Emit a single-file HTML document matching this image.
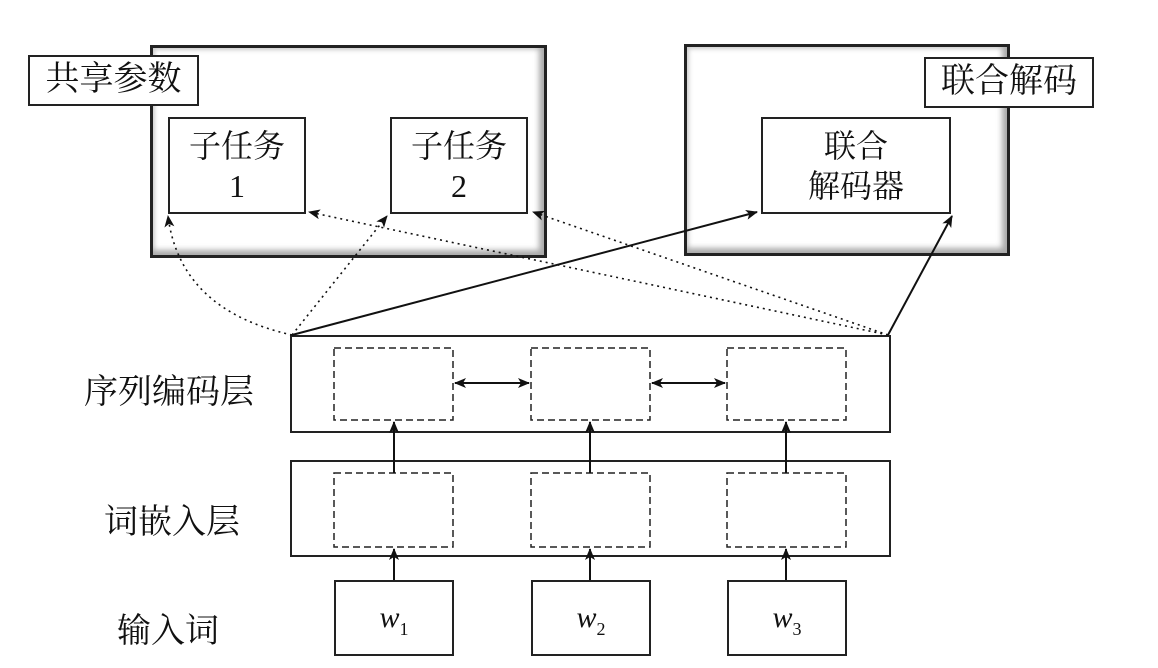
<!DOCTYPE html>
<html><head><meta charset="utf-8"><style>
body{margin:0;background:#fff;width:1158px;height:668px;overflow:hidden;position:relative;font-family:"Liberation Serif","Noto Serif CJK SC",serif;color:#111}
.a{position:absolute;box-sizing:border-box}
.outer{border:3px solid #222;background:#fff;box-shadow:inset -7px -7px 6px -2px #aaa,inset 3px 3px 4px -1px #ccc}
.b{border:2px solid #222;background:#fff;display:flex;align-items:center;justify-content:center;text-align:center;line-height:1.25}
.lab{font-size:34px}
.s{font-size:18px;position:relative;top:8px;font-style:normal}
</style></head><body>
<div class="a outer" style="left:150px;top:45px;width:397px;height:213px"></div>
<div class="a b" style="left:28px;top:55px;width:171px;height:51px;font-size:34px">共享参数</div>
<div class="a b" style="left:168px;top:117px;width:138px;height:97px;font-size:32px">子任务<br>1</div>
<div class="a b" style="left:390px;top:117px;width:138px;height:97px;font-size:32px">子任务<br>2</div>
<div class="a outer" style="left:684px;top:44px;width:326px;height:212px"></div>
<div class="a b" style="left:924px;top:57px;width:170px;height:51px;font-size:34px">联合解码</div>
<div class="a b" style="left:761px;top:117px;width:190px;height:97px;font-size:32px">联合<br>解码器</div>

<div class="a b" style="left:290px;top:335px;width:601px;height:98px"></div>
<div class="a b" style="left:290px;top:460px;width:601px;height:97px"></div>
<div class="a lab" style="left:84px;top:364px">序列编码层</div>
<div class="a lab" style="left:104px;top:494px">词嵌入层</div>
<div class="a lab" style="left:117px;top:603px">输入词</div>

<div class="a b" style="left:334px;top:580px;width:120px;height:76px;font-size:30px"><span><i>w</i><span class="s">1</span></span></div>
<div class="a b" style="left:531px;top:580px;width:120px;height:76px;font-size:30px"><span><i>w</i><span class="s">2</span></span></div>
<div class="a b" style="left:727px;top:580px;width:120px;height:76px;font-size:30px"><span><i>w</i><span class="s">3</span></span></div>

<svg class="a" style="left:0;top:0" width="1158" height="668">
<defs><marker id="m" markerWidth="12" markerHeight="10" refX="11" refY="5" orient="auto" markerUnits="userSpaceOnUse"><path d="M0,0L12,5L0,10L3,5Z" fill="#111"/></marker>
<marker id="ms" markerWidth="12" markerHeight="10" refX="1" refY="5" orient="auto" markerUnits="userSpaceOnUse"><path d="M12,0L0,5L12,10L9,5Z" fill="#111"/></marker></defs>
<g fill="none" stroke="#222" stroke-width="1.5" stroke-dasharray="7,4">
<rect x="334" y="348" width="119" height="72"/><rect x="531" y="348" width="119" height="72"/><rect x="727" y="348" width="119" height="72"/>
<rect x="334" y="473" width="119" height="74"/><rect x="531" y="473" width="119" height="74"/><rect x="727" y="473" width="119" height="74"/>
</g>
<g stroke="#111" stroke-width="2" fill="none">
<line x1="455" y1="383" x2="529" y2="383" marker-start="url(#ms)" marker-end="url(#m)"/>
<line x1="652" y1="383" x2="725" y2="383" marker-start="url(#ms)" marker-end="url(#m)"/>
<line x1="394" y1="473" x2="394" y2="422" marker-end="url(#m)"/>
<line x1="590" y1="473" x2="590" y2="422" marker-end="url(#m)"/>
<line x1="786" y1="473" x2="786" y2="422" marker-end="url(#m)"/>
<line x1="394" y1="580" x2="394" y2="549" marker-end="url(#m)"/>
<line x1="590" y1="580" x2="590" y2="549" marker-end="url(#m)"/>
<line x1="786" y1="580" x2="786" y2="549" marker-end="url(#m)"/>
<line x1="292" y1="335" x2="757" y2="212" marker-end="url(#m)"/>
<line x1="888" y1="335" x2="952" y2="216" marker-end="url(#m)"/>
</g>
<g stroke="#111" stroke-width="1.6" fill="none" stroke-dasharray="2,4">
<path d="M292,335 Q180,310 168,216" marker-end="url(#m)"/>
<line x1="292" y1="335" x2="387" y2="216" marker-end="url(#m)"/>
<line x1="888" y1="335" x2="309" y2="212" marker-end="url(#m)"/>
<line x1="888" y1="335" x2="533" y2="212" marker-end="url(#m)"/>
</g>
</svg>
</body></html>
